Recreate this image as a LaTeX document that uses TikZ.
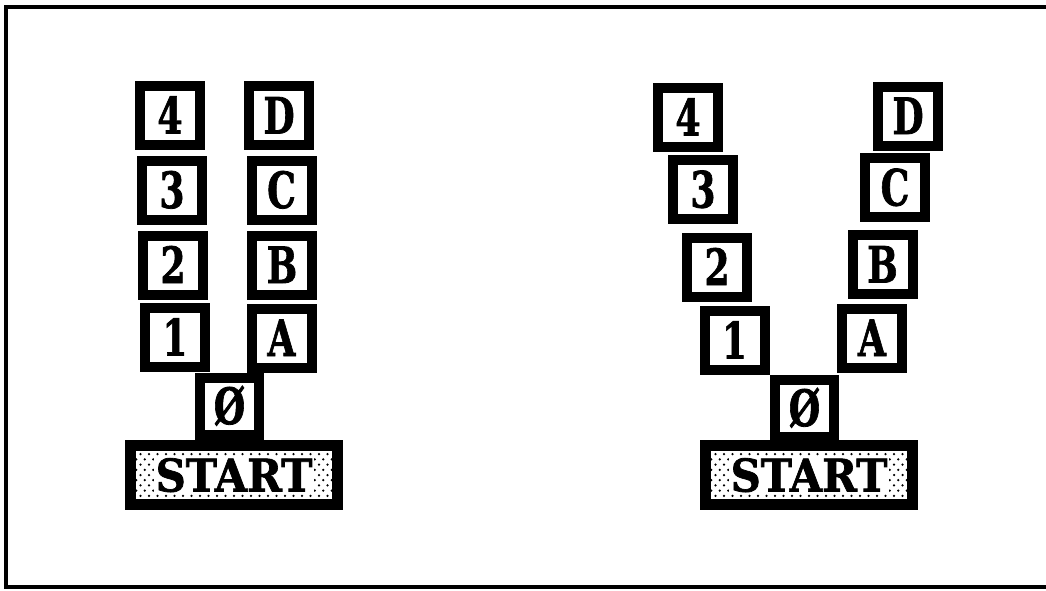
\documentclass[tikz,border=0pt]{standalone}
\usepackage{fontspec}
\usepackage{graphicx}
\newfontfamily\west{DejaVu Serif Bold}[FakeBold=1.6]
\newcommand{\blkglyph}[1]{\scalebox{0.72}[1]{\fontsize{50}{50}\selectfont\west #1}}
\newcommand{\startglyph}[1]{\scalebox{0.93}[1]{\fontsize{45}{45}\selectfont\west #1}}
\newcommand{\stipple}[1]{%
  \begin{scope}[shift={(#1.center)}]
    \clip (-98,-24) rectangle (98,24);
    \foreach \j in {-5,...,5} {
      \foreach \i in {-12,...,12} {
        \pgfmathsetmacro{\xx}{\i*8.5 + mod(abs(\j),2)*4.25}
        \fill[black] (\xx,\j*5.2) circle (1.25);
      }
    }
  \end{scope}}
\tikzset{
  block/.style={draw=black, line width=10pt, fill=white, minimum width=60pt, minimum height=59pt, inner sep=0pt, text height=36pt, text depth=0pt},
  zerobox/.style={block, minimum width=59pt, minimum height=57pt},
  startbox/.style={draw=black, line width=11pt, fill=white, minimum width=207pt, minimum height=59pt, inner sep=0pt},
  starttext/.style={fill=white, inner sep=1.5pt, text height=33pt, text depth=0pt},
  frameline/.style={line width=3.5pt, black}
}
\begin{document}
\begin{tikzpicture}[x=1pt,y=-1pt]
\useasboundingbox (0,0) rectangle (1046,590);
\fill[white] (0,0) rectangle (1046,590);
% frame (right side not shown)
\draw[frameline] (1046,7) -- (6,7) -- (6,587) -- (1046,587);

% left arrangement
\node[block] (L4) at (170,115.5) {\blkglyph{4}};
\node[block] (LD) at (279,115.5) {\blkglyph{D}};
\node[block] (L3) at (172,190) {\blkglyph{3}};
\node[block] (LC) at (281.5,190) {\blkglyph{C}};
\node[block] (L2) at (173,265) {\blkglyph{2}};
\node[block] (LB) at (282,265) {\blkglyph{B}};
\node[block] (L1) at (175,337.5) {\blkglyph{1}};
\node[block] (LA) at (281.5,338) {\blkglyph{A}};
\node[startbox] (LS) at (234,475) {};
\stipple{LS}
\node[starttext] (LST) at (LS.center) {\startglyph{START}};
\node[zerobox] (L0) at (229.5,406) {\blkglyph{Ø}};

% right arrangement
\node[block] (R4) at (688,117.5) {\blkglyph{4}};
\node[block] (RD) at (908,116) {\blkglyph{D}};
\node[block] (R3) at (703,189.5) {\blkglyph{3}};
\node[block] (RC) at (895,187.5) {\blkglyph{C}};
\node[block] (R2) at (717,267) {\blkglyph{2}};
\node[block] (RB) at (882.5,264.5) {\blkglyph{B}};
\node[block] (R1) at (734.5,340.5) {\blkglyph{1}};
\node[block] (RA) at (872,338) {\blkglyph{A}};
\node[startbox] (RS) at (809,475) {};
\stipple{RS}
\node[starttext] (RST) at (RS.center) {\startglyph{START}};
\node[zerobox] (R0) at (804.5,408) {\blkglyph{Ø}};
\end{tikzpicture}
\end{document}
